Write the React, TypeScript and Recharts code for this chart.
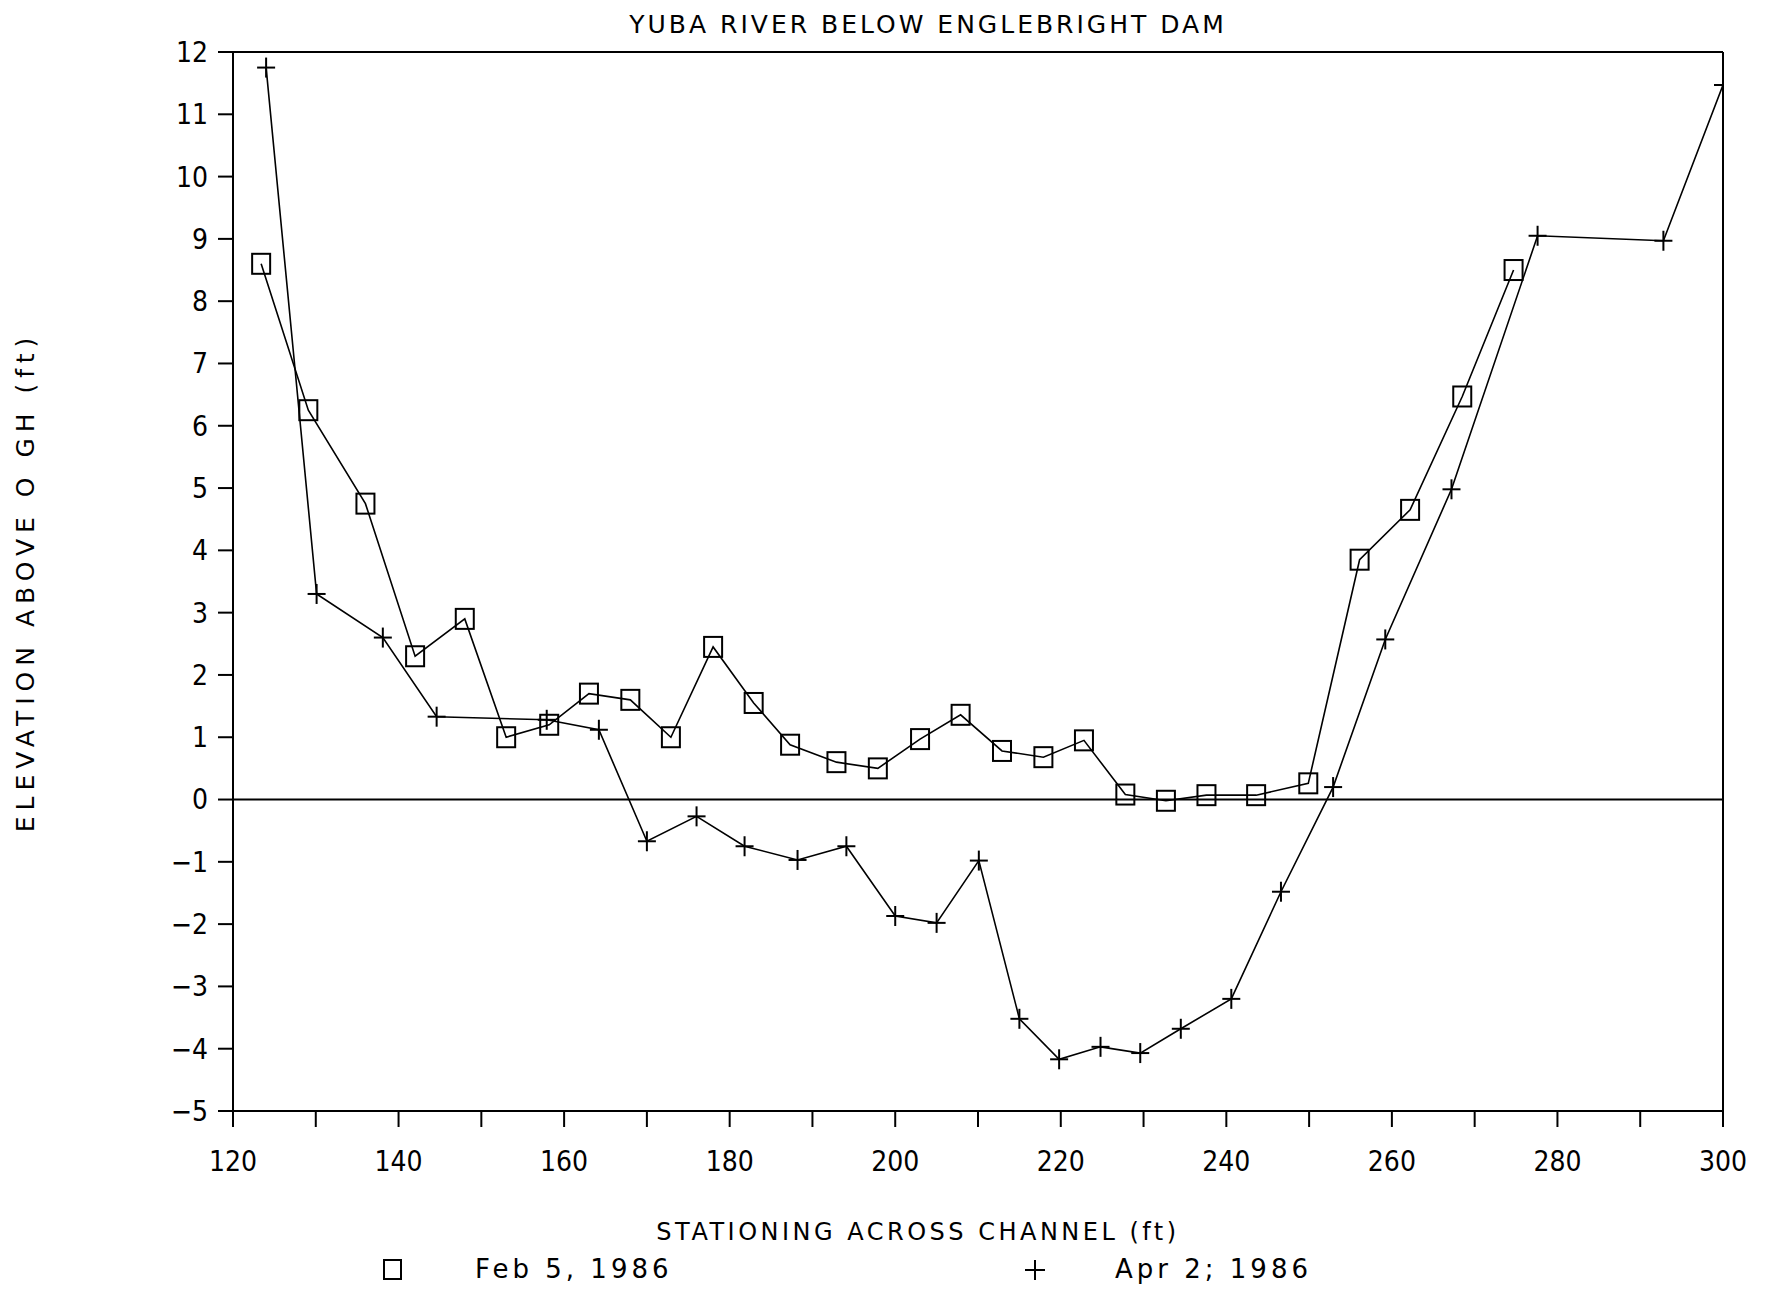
import { Line, LineChart, ReferenceLine, XAxis, YAxis } from "recharts";

// stationing (ft) and elevation above 0 GH (ft)
const febStation = [123.4, 129.1, 136.0, 142.0, 148.0, 153.0, 158.2, 163.0, 168.0, 172.9, 178.0, 182.9, 187.3, 192.9, 197.9, 203.0, 207.9, 212.9, 217.9, 222.8, 227.8, 232.7, 237.6, 243.6, 249.9, 256.1, 262.2, 268.5, 274.7];
const febElev = [8.6, 6.25, 4.75, 2.3, 2.9, 1.0, 1.2, 1.7, 1.6, 1.0, 2.45, 1.55, 0.88, 0.6, 0.5, 0.97, 1.36, 0.78, 0.68, 0.95, 0.08, -0.02, 0.07, 0.07, 0.26, 3.85, 4.65, 6.47, 8.5];

const aprStation = [124.0, 130.1, 138.1, 144.6, 157.9, 164.2, 170.0, 176.0, 181.8, 188.2, 194.1, 200.0, 205.0, 210.1, 215.0, 219.8, 224.8, 229.6, 234.5, 240.6, 246.6, 252.9, 259.2, 267.2, 277.6, 292.8, 300];
const aprElev = [11.75, 3.3, 2.6, 1.33, 1.28, 1.12, -0.67, -0.27, -0.75, -0.97, -0.75, -1.87, -1.98, -0.98, -3.52, -4.17, -3.97, -4.07, -3.68, -3.2, -1.48, 0.2, 2.57, 4.98, 9.05, 8.97, 11.47];

const xTicks = [120, 130, 140, 150, 160, 170, 180, 190, 200, 210, 220, 230, 240, 250, 260, 270, 280, 290, 300];
const yTicks = [-5, -4, -3, -2, -1, 0, 1, 2, 3, 4, 5, 6, 7, 8, 9, 10, 11, 12];

const feb = febStation.map((s, i) => ({ station: s, elev: febElev[i] }));
const apr = aprStation.map((s, i) => ({ station: s, elev: aprElev[i] }));

const narrow = "'Liberation Sans Narrow', 'DejaVu Sans Condensed', 'DejaVu Sans', sans-serif";
const plain = "'DejaVu Sans', sans-serif";

const SquareDot = (p: any) => (
  <rect key={`sq-${p.index}`} x={p.cx - 9} y={p.cy - 10} width={18} height={20} fill="none" stroke="#000" strokeWidth={2} />
);

const PlusDot = (p: any) => (
  <g key={`pl-${p.index}`} stroke="#000" strokeWidth={2}>
    <line x1={p.cx - 9} y1={p.cy} x2={p.cx + 9} y2={p.cy} />
    <line x1={p.cx} y1={p.cy - 10} x2={p.cx} y2={p.cy + 10} />
  </g>
);

const XTick = (p: any) =>
  p.payload.value % 20 === 0 ? (
    <text x={p.x} y={p.y} dy="0.71em" textAnchor="middle" fontSize={28} fontFamily={narrow} fill="#000">
      {p.payload.value}
    </text>
  ) : (
    <g />
  );

const fmtY = (v: number) => (v < 0 ? `\u2212${-v}` : `${v}`);

export default function App() {
  return (
    <div style={{ position: "absolute", left: 0, top: 0, width: 1772, height: 1289, background: "#fff" }}>
      <LineChart width={1772} height={1289} margin={{ top: 52, right: 49, left: 0, bottom: 118 }}>
        <XAxis type="number" dataKey="station" domain={[120, 300]} ticks={xTicks} interval={0} allowDataOverflow
          tick={XTick} tickSize={16} tickMargin={24} height={60} stroke="#000" strokeWidth={2} />
        <YAxis type="number" domain={[-5, 12]} ticks={yTicks} interval={0} allowDataOverflow width={233}
          tickSize={15} tickMargin={10} stroke="#000" strokeWidth={2} tickFormatter={fmtY}
          tick={{ fontSize: 28, fontFamily: narrow, fill: "#000" }} />
        <ReferenceLine y={12} stroke="#000" strokeWidth={2} />
        <ReferenceLine x={300} stroke="#000" strokeWidth={2} />
        <ReferenceLine y={0} stroke="#000" strokeWidth={2} />
        <Line data={feb} dataKey="elev" stroke="#000" strokeWidth={1.6} dot={SquareDot} isAnimationActive={false} />
        <Line data={apr} dataKey="elev" stroke="#000" strokeWidth={1.6} dot={PlusDot} isAnimationActive={false} />
      </LineChart>
      <div style={{ position: "absolute", left: 928, top: 24, width: 0, height: 0 }}>
        <div style={{ position: "absolute", transform: "translate(-50%, -50%)", whiteSpace: "nowrap", fontFamily: plain, fontSize: 25, letterSpacing: 3 }}>
          YUBA RIVER BELOW ENGLEBRIGHT DAM
        </div>
      </div>
      <div style={{ position: "absolute", left: 25, top: 582, width: 0, height: 0 }}>
        <div style={{ position: "absolute", transform: "translate(-50%, -50%) rotate(-90deg)", whiteSpace: "nowrap", fontFamily: plain, fontSize: 25, letterSpacing: 6 }}>
          ELEVATION ABOVE O GH (ft)
        </div>
      </div>
      <div style={{ position: "absolute", left: 918, top: 1232, width: 0, height: 0 }}>
        <div style={{ position: "absolute", transform: "translate(-50%, -50%)", whiteSpace: "nowrap", fontFamily: plain, fontSize: 24, letterSpacing: 3.5 }}>
          STATIONING ACROSS CHANNEL (ft)
        </div>
      </div>
      <svg style={{ position: "absolute", left: 0, top: 1250 }} width={1772} height={39}>
        <rect x={384} y={10} width={17} height={19} fill="none" stroke="#000" strokeWidth={2} />
        <text x={475} y={28} fontFamily={plain} fontSize={26} letterSpacing={4}>Feb 5, 1986</text>
        <line x1={1025} y1={20} x2={1045} y2={20} stroke="#000" strokeWidth={2} />
        <line x1={1035} y1={10} x2={1035} y2={30} stroke="#000" strokeWidth={2} />
        <text x={1115} y={28} fontFamily={plain} fontSize={26} letterSpacing={4}>Apr 2; 1986</text>
      </svg>
    </div>
  );
}
